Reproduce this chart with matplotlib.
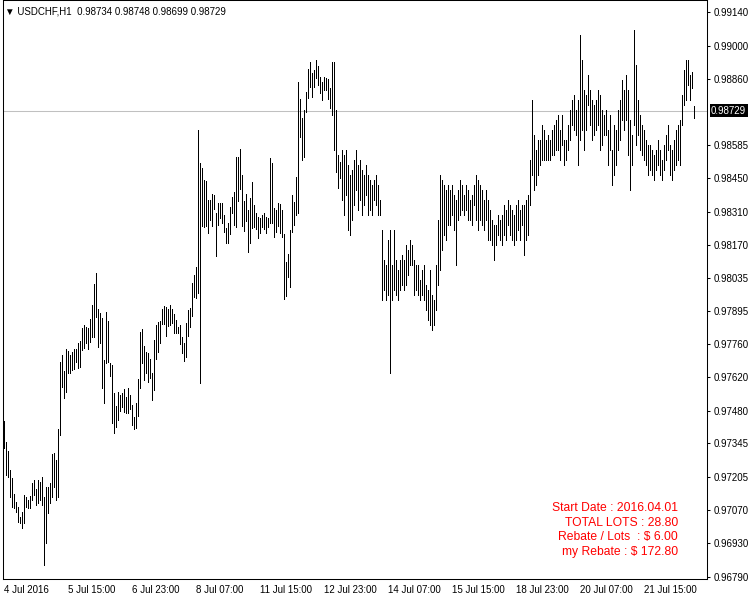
import numpy as np
import matplotlib.pyplot as plt
from matplotlib.transforms import blended_transform_factory

plt.rcParams['font.family'] = ['Liberation Sans', 'DejaVu Sans']

symbol = "USDCHF,H1"
last_ohlc = [0.98734, 0.98748, 0.98699, 0.98729]

# hourly bars, 4 Jul 2016 onwards (high / low)
highs = [
    0.97439, 0.97352, 0.97314, 0.97235, 0.97202, 0.97135, 0.97102, 0.97081, 0.97039, 0.97060,
    0.97131, 0.97123, 0.97110, 0.97127, 0.97181, 0.97193, 0.97156, 0.97193, 0.97185, 0.97206,
    0.97123, 0.97164, 0.97164, 0.97181, 0.97301, 0.97306, 0.97276, 0.97405, 0.97684, 0.97713,
    0.97647, 0.97738, 0.97730, 0.97713, 0.97726, 0.97738, 0.97738, 0.97764, 0.97772, 0.97825,
    0.97838, 0.97830, 0.97825, 0.97863, 0.97921, 0.98008, 0.98055, 0.97904, 0.97888, 0.97867,
    0.97692, 0.97892, 0.97855, 0.97680, 0.97672, 0.97556, 0.97501, 0.97560, 0.97547, 0.97556,
    0.97572, 0.97539, 0.97576, 0.97547, 0.97505, 0.97455, 0.97514, 0.97613, 0.97809, 0.97821,
    0.97751, 0.97726, 0.97722, 0.97697, 0.97639, 0.97776, 0.97838, 0.97850, 0.97855, 0.97904,
    0.97917, 0.97913, 0.97904, 0.97921, 0.97904, 0.97884, 0.97859, 0.97830, 0.97838, 0.97788,
    0.97764, 0.97846, 0.97900, 0.97909, 0.98013, 0.98046, 0.98079, 0.98649, 0.98512, 0.98491,
    0.98441, 0.98437, 0.98358, 0.98358, 0.98383, 0.98379, 0.98304, 0.98346, 0.98346, 0.98346,
    0.98296, 0.98242, 0.98262, 0.98329, 0.98371, 0.98391, 0.98537, 0.98537, 0.98570, 0.98462,
    0.98354, 0.98383, 0.98316, 0.98366, 0.98433, 0.98337, 0.98304, 0.98287, 0.98283, 0.98296,
    0.98304, 0.98287, 0.98283, 0.98533, 0.98512, 0.98325, 0.98316, 0.98346, 0.98341, 0.98316,
    0.98217, 0.98100, 0.98133, 0.98233, 0.98379, 0.98350, 0.98454, 0.98849, 0.98778, 0.98699,
    0.98732, 0.98807, 0.98903, 0.98932, 0.98886, 0.98899, 0.98940, 0.98915, 0.98870, 0.98849,
    0.98870, 0.98865, 0.98861, 0.98824, 0.98932, 0.98932, 0.98732, 0.98545, 0.98516, 0.98566,
    0.98545, 0.98566, 0.98504, 0.98462, 0.98483, 0.98524, 0.98566, 0.98504, 0.98524, 0.98483,
    0.98462, 0.98504, 0.98462, 0.98441, 0.98420, 0.98441, 0.98462, 0.98420, 0.98358, 0.98233,
    0.98108, 0.98087, 0.98192, 0.98233, 0.98087, 0.98233, 0.98108, 0.98067, 0.98108, 0.98129,
    0.98108, 0.98171, 0.98150, 0.98192, 0.98171, 0.98108, 0.98087, 0.98087, 0.98025, 0.98067,
    0.98087, 0.98004, 0.97984, 0.98067, 0.97963, 0.97942, 0.98087, 0.98275, 0.98462, 0.98441,
    0.98420, 0.98400, 0.98420, 0.98400, 0.98420, 0.98379, 0.98358, 0.98400, 0.98441, 0.98420,
    0.98379, 0.98420, 0.98400, 0.98358, 0.98379, 0.98420, 0.98462, 0.98441, 0.98420, 0.98400,
    0.98358, 0.98400, 0.98358, 0.98316, 0.98275, 0.98254, 0.98254, 0.98296, 0.98275, 0.98296,
    0.98337, 0.98316, 0.98358, 0.98337, 0.98316, 0.98296, 0.98337, 0.98358, 0.98316, 0.98337,
    0.98337, 0.98358, 0.98379, 0.98524, 0.98774, 0.98629, 0.98566, 0.98608, 0.98608, 0.98670,
    0.98649, 0.98608, 0.98629, 0.98608, 0.98649, 0.98670, 0.98691, 0.98712, 0.98649, 0.98712,
    0.98608, 0.98608, 0.98670, 0.98732, 0.98774, 0.98795, 0.98732, 0.98774, 0.99044, 0.98940,
    0.98816, 0.98795, 0.98878, 0.98816, 0.98774, 0.98753, 0.98774, 0.98816, 0.98795, 0.98732,
    0.98712, 0.98732, 0.98649, 0.98712, 0.98566, 0.98670, 0.98649, 0.98732, 0.98774, 0.98857,
    0.98816, 0.98878, 0.98816, 0.98691, 0.98629, 0.99065, 0.98920, 0.98774, 0.98712, 0.98670,
    0.98649, 0.98608, 0.98587, 0.98587, 0.98566, 0.98545, 0.98566, 0.98608, 0.98566, 0.98524,
    0.98587, 0.98629, 0.98670, 0.98587, 0.98566, 0.98608, 0.98649, 0.98670, 0.98691, 0.98795,
    0.98899, 0.98940, 0.98940, 0.98878, 0.98890, 0.98748,
]
lows = [
    0.97327, 0.97214, 0.97206, 0.97123, 0.97081, 0.97077, 0.97060, 0.97019, 0.97015, 0.96994,
    0.97015, 0.97081, 0.97077, 0.97077, 0.97110, 0.97131, 0.97089, 0.97098, 0.97110, 0.97089,
    0.96839, 0.96932, 0.97056, 0.97098, 0.97123, 0.97164, 0.97110, 0.97123, 0.97380, 0.97580,
    0.97535, 0.97560, 0.97639, 0.97639, 0.97651, 0.97655, 0.97684, 0.97659, 0.97663, 0.97734,
    0.97742, 0.97764, 0.97738, 0.97768, 0.97788, 0.97788, 0.97871, 0.97747, 0.97764, 0.97576,
    0.97514, 0.97680, 0.97684, 0.97626, 0.97431, 0.97389, 0.97414, 0.97443, 0.97480, 0.97497,
    0.97476, 0.97472, 0.97472, 0.97489, 0.97422, 0.97405, 0.97410, 0.97460, 0.97576, 0.97680,
    0.97609, 0.97639, 0.97601, 0.97618, 0.97526, 0.97568, 0.97697, 0.97726, 0.97764, 0.97842,
    0.97842, 0.97792, 0.97834, 0.97838, 0.97846, 0.97805, 0.97805, 0.97805, 0.97759, 0.97722,
    0.97688, 0.97705, 0.97792, 0.97830, 0.97875, 0.97955, 0.97950, 0.97971, 0.97597, 0.98250,
    0.98246, 0.98250, 0.98221, 0.98275, 0.98250, 0.98321, 0.98125, 0.98254, 0.98283, 0.98262,
    0.98225, 0.98179, 0.98179, 0.98217, 0.98304, 0.98254, 0.98246, 0.98354, 0.98404, 0.98250,
    0.98229, 0.98271, 0.98142, 0.98179, 0.98242, 0.98246, 0.98237, 0.98200, 0.98221, 0.98246,
    0.98237, 0.98221, 0.98246, 0.98262, 0.98262, 0.98204, 0.98225, 0.98250, 0.98221, 0.98204,
    0.97946, 0.97959, 0.98038, 0.97996, 0.98225, 0.98254, 0.98296, 0.98304, 0.98620, 0.98524,
    0.98537, 0.98724, 0.98782, 0.98828, 0.98786, 0.98828, 0.98865, 0.98836, 0.98803, 0.98774,
    0.98816, 0.98816, 0.98778, 0.98741, 0.98712, 0.98566, 0.98474, 0.98408, 0.98450, 0.98358,
    0.98296, 0.98379, 0.98233, 0.98212, 0.98275, 0.98337, 0.98400, 0.98316, 0.98358, 0.98296,
    0.98337, 0.98379, 0.98296, 0.98316, 0.98296, 0.98358, 0.98337, 0.98296, 0.98296, 0.97942,
    0.97984, 0.97942, 0.97963, 0.97639, 0.97942, 0.97984, 0.97963, 0.97942, 0.97984, 0.98004,
    0.97984, 0.98004, 0.98046, 0.98087, 0.98087, 0.97963, 0.97984, 0.97963, 0.97942, 0.97963,
    0.97942, 0.97900, 0.97859, 0.97838, 0.97817, 0.97838, 0.97900, 0.98004, 0.98067, 0.98150,
    0.98212, 0.98192, 0.98254, 0.98254, 0.98296, 0.98233, 0.98087, 0.98275, 0.98296, 0.98316,
    0.98296, 0.98316, 0.98275, 0.98275, 0.98254, 0.98337, 0.98275, 0.98233, 0.98275, 0.98254,
    0.98233, 0.98275, 0.98192, 0.98192, 0.98171, 0.98108, 0.98171, 0.98212, 0.98192, 0.98171,
    0.98212, 0.98192, 0.98254, 0.98212, 0.98192, 0.98171, 0.98192, 0.98233, 0.98192, 0.98254,
    0.98129, 0.98192, 0.98212, 0.98337, 0.98462, 0.98400, 0.98420, 0.98462, 0.98504, 0.98524,
    0.98524, 0.98524, 0.98524, 0.98524, 0.98545, 0.98545, 0.98566, 0.98566, 0.98524, 0.98587,
    0.98504, 0.98524, 0.98566, 0.98608, 0.98670, 0.98649, 0.98629, 0.98504, 0.98608, 0.98649,
    0.98566, 0.98649, 0.98753, 0.98670, 0.98608, 0.98629, 0.98649, 0.98670, 0.98566, 0.98587,
    0.98629, 0.98629, 0.98504, 0.98566, 0.98420, 0.98462, 0.98504, 0.98566, 0.98608, 0.98691,
    0.98649, 0.98691, 0.98545, 0.98400, 0.98504, 0.98670, 0.98587, 0.98629, 0.98566, 0.98545,
    0.98524, 0.98504, 0.98462, 0.98483, 0.98462, 0.98441, 0.98483, 0.98504, 0.98462, 0.98441,
    0.98483, 0.98524, 0.98566, 0.98462, 0.98441, 0.98483, 0.98504, 0.98524, 0.98504, 0.98670,
    0.98753, 0.98774, 0.98836, 0.98774, 0.98824, 0.98699,
]

price_ticks = [0.99140, 0.99000, 0.98860, 0.98585, 0.98450, 0.98310, 0.98170, 0.98035,
               0.97895, 0.97760, 0.97620, 0.97480, 0.97345, 0.97205, 0.97070, 0.96930, 0.96790]
date_labels = ["4 Jul 2016", "5 Jul 15:00", "6 Jul 23:00", "8 Jul 07:00", "11 Jul 15:00",
               "12 Jul 23:00", "14 Jul 07:00", "15 Jul 15:00", "18 Jul 23:00", "20 Jul 07:00",
               "21 Jul 15:00"]
bars_per_label = 32

rebate_lines = ["Start Date : 2016.04.01", "TOTAL LOTS : 28.80",
                "Rebate / Lots  : $ 6.00", "my Rebate : $ 172.80"]


def main():
    fig = plt.figure(figsize=(7.5, 6), dpi=100)
    ax = fig.add_axes([2.5 / 750, 21 / 600, 704.5 / 750, 579 / 600])

    n = len(highs)
    x = np.arange(n)
    ax.vlines(x, lows, highs, colors='black', linewidth=0.5, antialiased=False)

    ax.axhline(last_ohlc[3], color='#c0c0c0', linewidth=0.75, zorder=0)

    ax.set_xlim(-0.5, 351.75)
    ax.set_ylim(0.96781, 0.99190)

    for s in ax.spines.values():
        s.set_linewidth(0.75)
        s.set_color('black')

    ax.yaxis.tick_right()
    ax.set_yticks(price_ticks)
    ax.set_yticklabels(['%.5f' % p for p in price_ticks])
    ax.tick_params(axis='y', length=2.5, width=0.75, pad=2.0, labelsize=7, colors='black')

    ax.set_xticks(np.arange(len(date_labels)) * bars_per_label)
    ax.set_xticklabels(date_labels)
    for lbl in ax.get_xticklabels():
        lbl.set_horizontalalignment('left')
    ax.tick_params(axis='x', length=0, pad=4.0, labelsize=7, colors='black')

    # current price marker
    tr = blended_transform_factory(ax.transAxes, ax.transData)
    ax.text(1.0 + 4 / 704.5, last_ohlc[3], '%.5f' % last_ohlc[3], transform=tr,
            color='white', fontsize=7, va='center', ha='left',
            bbox=dict(facecolor='black', edgecolor='none', boxstyle='square,pad=0.15'))

    title = '\u25bc ' + symbol + '  ' + ' '.join('%.5f' % v for v in last_ohlc)
    fig.text(5 / 750, 1 - 15 / 600, title, fontsize=7, va='baseline', ha='left')

    baselines = [511, 525.5, 540, 554.5]
    for line, b in zip(rebate_lines, baselines):
        fig.text(678 / 750, 1 - b / 600, line, color='red', fontsize=8.7,
                 ha='right', va='baseline')

    fig.savefig('out.png', dpi=100)


if __name__ == '__main__':
    main()
